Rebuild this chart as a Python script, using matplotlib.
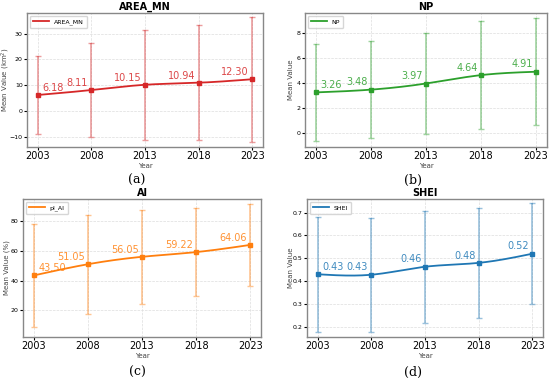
import numpy as np
import matplotlib
matplotlib.use('Agg')
import matplotlib.pyplot as plt

years = [2003, 2008, 2013, 2018, 2023]

area_mn = [6.18, 8.11, 10.15, 10.94, 12.30]
area_mn_err = [15.1, 18.4, 21.3, 22.3, 24.2]

np_vals = [3.26, 3.48, 3.97, 4.64, 4.91]
np_err = [3.9, 3.87, 4.03, 4.32, 4.29]

ai_vals = [43.50, 51.05, 56.05, 59.22, 64.06]
ai_err = [34.6, 33.5, 31.8, 29.6, 27.9]

shei_vals = [0.43, 0.428, 0.463, 0.48, 0.52]
shei_err = [0.253, 0.249, 0.246, 0.24, 0.222]

W, H = 550, 379


def spline(x, y, n=200):
    # natural cubic spline, only used to draw a smooth line through the points
    x = np.asarray(x, float)
    y = np.asarray(y, float)
    k = len(x)
    h = np.diff(x)
    A = np.zeros((k, k))
    b = np.zeros(k)
    A[0, 0] = A[-1, -1] = 1
    for i in range(1, k - 1):
        A[i, i - 1] = h[i - 1]
        A[i, i] = 2 * (h[i - 1] + h[i])
        A[i, i + 1] = h[i]
        b[i] = 6 * ((y[i + 1] - y[i]) / h[i] - (y[i] - y[i - 1]) / h[i - 1])
    M = np.linalg.solve(A, b)
    xs = np.linspace(x[0], x[-1], n)
    idx = np.clip(np.searchsorted(x, xs) - 1, 0, k - 2)
    x0, x1 = x[idx], x[idx + 1]
    hh = x1 - x0
    ys = (M[idx] * (x1 - xs) ** 3 / (6 * hh) + M[idx + 1] * (xs - x0) ** 3 / (6 * hh)
          + (y[idx] / hh - M[idx] * hh / 6) * (x1 - xs)
          + (y[idx + 1] / hh - M[idx + 1] * hh / 6) * (xs - x0))
    return xs, ys


def box(x0, y0, x1, y1):
    return [x0 / W, 1 - y1 / H, (x1 - x0) / W, (y1 - y0) / H]


def panel(rect, vals, err, color, label, title, ylabel, ylim, yticks, off, ylab_px):
    ax = fig.add_axes(box(*rect))
    ax.errorbar(years, vals, yerr=err, fmt='none', ecolor=color, alpha=0.45,
                elinewidth=1.2, capsize=2, capthick=1)
    xs, ys = spline(years, vals)
    ax.plot(xs, ys, color=color, lw=1.3, label=label)
    ax.plot(years, vals, 's', color=color, ms=2.5)
    for i, (x, v) in enumerate(zip(years, vals)):
        if i == 0:
            ax.text(x + 0.4, v + off, '{:.2f}'.format(v), color=color, fontsize=7,
                    ha='left', va='bottom', alpha=0.85)
        else:
            ax.text(x - 0.3, v + off, '{:.2f}'.format(v), color=color, fontsize=7,
                    ha='right', va='bottom', alpha=0.85)
    ax.set_title(title, fontsize=7, fontweight='bold', pad=2)
    ax.set_xlabel('Year', fontsize=5, labelpad=1, color='#444444')
    ax.set_ylabel(ylabel, fontsize=5, color='#444444')
    ax.yaxis.set_label_coords((ylab_px - rect[0]) / (rect[2] - rect[0]), 0.5)
    ax.set_xticks(years)
    ax.set_xlim(2002.0, 2024.0)
    ax.set_ylim(*ylim)
    ax.set_yticks(yticks)
    ax.tick_params(axis='x', labelsize=7, length=2, pad=1)
    ax.tick_params(axis='y', labelsize=4.5, length=2, pad=1)
    ax.grid(True, ls='--', lw=0.5, color='#dddddd')
    for s in ax.spines.values():
        s.set_color('#888888')
        s.set_linewidth(1.0)
    ax.legend(loc='upper left', fontsize=4.5, frameon=True, handlelength=2.5,
              borderpad=0.5, edgecolor='#cccccc')
    return ax


fig = plt.figure(figsize=(5.5, 3.79), dpi=100)

panel((27, 13, 263, 147), area_mn, area_mn_err, '#d62728', 'AREA_MN', 'AREA_MN',
      'Mean Value (km$^2$)', (-14, 38), [-10, 0, 10, 20, 30], 0.8, 12)
panel((305, 13, 547, 147), np_vals, np_err, '#2ca02c', 'NP', 'NP', 'Mean Value',
      (-1.1, 9.6), [0, 2, 4, 6, 8], 0.2, 294)
panel((23, 199, 261, 337), ai_vals, ai_err, '#ff7f0e', 'pl_AI', 'AI', 'Mean Value (%)',
      (2, 95), [20, 40, 60, 80], 1.5, 10)
panel((307, 199, 543, 337), shei_vals, shei_err, '#1f77b4', 'SHEI', 'SHEI', 'Mean Value',
      (0.155, 0.76), [0.2, 0.3, 0.4, 0.5, 0.6, 0.7], 0.01, 294)

for lbl, x, y in [('(a)', 137, 180), ('(b)', 413, 180), ('(c)', 137, 372), ('(d)', 413, 372)]:
    fig.text(x / W, 1 - y / H, lbl, fontsize=9, family='DejaVu Serif',
             ha='center', va='center')

fig.savefig('out.png', dpi=100)
